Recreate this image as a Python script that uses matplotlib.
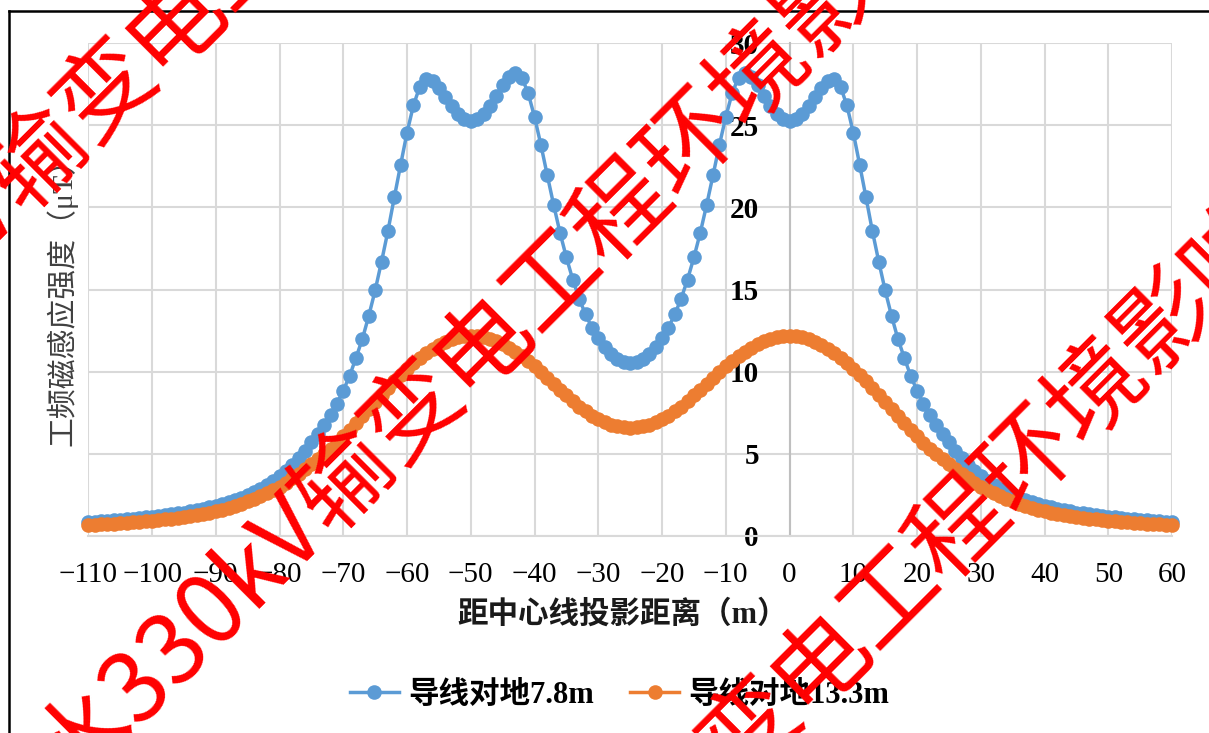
import matplotlib
matplotlib.use("Agg")
import matplotlib.pyplot as plt
from matplotlib.lines import Line2D

plt.rcParams['font.family'] = ['Liberation Serif', 'Noto Sans CJK SC', 'DejaVu Sans']
plt.rcParams['axes.unicode_minus'] = True

# Distance from the line centre (m), one sample per metre
distance = list(range(-110, 61))

# Power-frequency magnetic induction (uT), conductor 7.8 m above ground
field_7_8 = [
    0.85, 0.88, 0.90, 0.93, 0.96, 0.99, 1.02, 1.05, 1.09, 1.13,
    1.17, 1.21, 1.26, 1.31, 1.37, 1.43, 1.50, 1.57, 1.65, 1.74,
    1.84, 1.94, 2.06, 2.19, 2.33, 2.49, 2.67, 2.87, 3.10, 3.36,
    3.65, 3.98, 4.35, 4.75, 5.20, 5.70, 6.20, 6.75, 7.35, 8.05,
    8.85, 9.75, 10.85, 12.00, 13.40, 14.95, 16.70, 18.55, 20.60, 22.60,
    24.55, 26.20, 27.35, 27.80, 27.70, 27.25, 26.70, 26.15, 25.70, 25.40,
    25.25, 25.35, 25.65, 26.15, 26.80, 27.45, 27.95, 28.20, 27.90, 26.95,
    25.50, 23.80, 21.95, 20.15, 18.45, 16.95, 15.60, 14.45, 13.48, 12.68,
    12.02, 11.50, 11.08, 10.78, 10.60, 10.55, 10.60, 10.78, 11.08, 11.50,
    12.02, 12.68, 13.48, 14.45, 15.60, 16.95, 18.45, 20.15, 21.95, 23.80,
    25.50, 26.95, 27.90, 28.20, 27.95, 27.45, 26.80, 26.15, 25.65, 25.35,
    25.25, 25.40, 25.70, 26.15, 26.70, 27.25, 27.70, 27.80, 27.35, 26.20,
    24.55, 22.60, 20.60, 18.55, 16.70, 14.95, 13.40, 12.00, 10.85, 9.75,
    8.85, 8.05, 7.35, 6.75, 6.20, 5.70, 5.20, 4.75, 4.35, 3.98,
    3.65, 3.36, 3.10, 2.87, 2.67, 2.49, 2.33, 2.19, 2.06, 1.94,
    1.84, 1.74, 1.65, 1.57, 1.50, 1.43, 1.37, 1.31, 1.26, 1.21,
    1.17, 1.13, 1.09, 1.05, 1.02, 0.99, 0.96, 0.93, 0.90, 0.88,
    0.85,
]

# Power-frequency magnetic induction (uT), conductor 13.3 m above ground
field_13_3 = [
    0.66, 0.68, 0.71, 0.73, 0.76, 0.78, 0.81, 0.84, 0.87, 0.90,
    0.93, 0.97, 1.01, 1.05, 1.10, 1.15, 1.21, 1.27, 1.34, 1.42,
    1.50, 1.60, 1.71, 1.83, 1.96, 2.10, 2.25, 2.41, 2.59, 2.79,
    3.00, 3.24, 3.50, 3.77, 4.06, 4.36, 4.66, 4.98, 5.32, 5.68,
    6.06, 6.46, 6.88, 7.31, 7.74, 8.17, 8.60, 9.02, 9.42, 9.80,
    10.16, 10.50, 10.82, 11.12, 11.39, 11.63, 11.83, 11.99, 12.11, 12.18,
    12.20, 12.17, 12.11, 12.01, 11.87, 11.69, 11.47, 11.22, 10.94, 10.64,
    10.32, 9.98, 9.63, 9.27, 8.90, 8.55, 8.20, 7.87, 7.58, 7.32,
    7.10, 6.92, 6.78, 6.68, 6.62, 6.60, 6.62, 6.68, 6.78, 6.92,
    7.10, 7.32, 7.58, 7.87, 8.20, 8.55, 8.90, 9.27, 9.63, 9.98,
    10.32, 10.64, 10.94, 11.22, 11.47, 11.69, 11.87, 12.01, 12.11, 12.17,
    12.20, 12.18, 12.11, 11.99, 11.83, 11.63, 11.39, 11.12, 10.82, 10.50,
    10.16, 9.80, 9.42, 9.02, 8.60, 8.17, 7.74, 7.31, 6.88, 6.46,
    6.06, 5.68, 5.32, 4.98, 4.66, 4.36, 4.06, 3.77, 3.50, 3.24,
    3.00, 2.79, 2.59, 2.41, 2.25, 2.10, 1.96, 1.83, 1.71, 1.60,
    1.50, 1.42, 1.34, 1.27, 1.21, 1.15, 1.10, 1.05, 1.01, 0.97,
    0.93, 0.90, 0.87, 0.84, 0.81, 0.78, 0.76, 0.73, 0.71, 0.68,
    0.66,
]

series_labels = ['导线对地7.8m', '导线对地13.3m']
series_colors = ['#5b9bd5', '#ed7d31']
x_ticks = list(range(-110, 61, 10))
y_ticks = [0, 5, 10, 15, 20, 25, 30]
x_title = '距中心线投影距离（m）'
y_title = '工频磁感应强度（μT）'
stamp_head = '水330kV输变'
stamp_tail = '电工程环境影响'

W, H = 1209, 733
fig = plt.figure(figsize=(W / 100, H / 100), dpi=100)

left_px, right_px, top_px, bottom_px = 88.3, 1172.0, 43.0, 536.0
ax = fig.add_axes([left_px / W, 1 - bottom_px / H,
                   (right_px - left_px) / W, (bottom_px - top_px) / H])

for ys, col, lab in zip([field_7_8, field_13_3], series_colors, series_labels):
    ax.plot(distance, ys, color=col, lw=2.5, marker='o', markersize=10.5,
            markeredgewidth=0, label=lab, clip_on=False, zorder=3)

ax.set_xlim(-110, 60)
ax.set_ylim(0, 30)
ax.set_xticks(x_ticks)
ax.set_yticks(y_ticks)
ax.grid(True, color='#d9d9d9', lw=1.5, zorder=0)
ax.set_axisbelow(True)

for s in ['top', 'right']:
    ax.spines[s].set_visible(False)
ax.spines['left'].set_position(('data', 0))
ax.spines['left'].set_color('#bfbfbf')
ax.spines['left'].set_linewidth(1.5)
ax.spines['bottom'].set_color('#d9d9d9')
ax.spines['bottom'].set_linewidth(1.5)

ax.tick_params(axis='both', length=0)
ax.tick_params(axis='x', labelsize=21, pad=19, labelcolor='black')
ax.tick_params(axis='y', labelsize=21, pad=22, labelcolor='black')
for t in ax.get_yticklabels():
    t.set_fontweight('bold')

fig.text(623 / W, 1 - 615 / H, x_title, ha='center', va='center',
         fontsize=22, fontweight='bold', color='#1a1a1a')
fig.text(62 / W, 1 - 294 / H, y_title, ha='center', va='center',
         rotation=90, fontsize=21.5, color='#404040')

fig.legend(loc='center', bbox_to_anchor=(619.5 / W, 1 - 695 / H), ncol=2,
           frameon=False, handlelength=1.6, handletextpad=0.3,
           columnspacing=1.2, prop={'weight': 'bold', 'size': 22})

# Outer frame
fig.add_artist(Line2D([8.5 / W, 8.5 / W], [0, 1 - 11 / H], color='black', lw=1.8))
fig.add_artist(Line2D([8.5 / W, 1], [1 - 11 / H, 1 - 11 / H], color='black', lw=1.8))

# Diagonal red stamp text
for bx, by in [(141, 56), (448, 377), (786, 694)]:
    for txt, ha in [(stamp_head, 'right'), (stamp_tail, 'left')]:
        fig.text(bx / W, 1 - by / H, txt, ha=ha, va='center', rotation=45,
                 rotation_mode='anchor', fontsize=70, color='#ff0000',
                 family=['Noto Sans CJK SC'], zorder=10)

fig.savefig('out.png', dpi=100)
